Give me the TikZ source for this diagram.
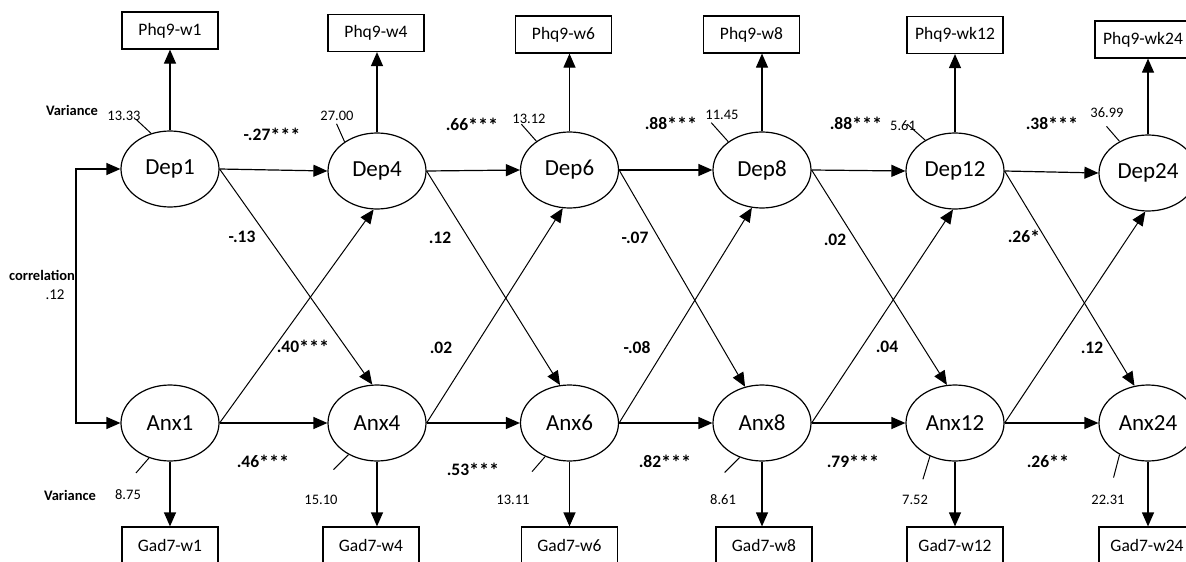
\documentclass[tikz,border=0pt]{standalone}
\usepackage{fontspec}
\usepackage{graphicx}
\setmainfont{Carlito}
\usetikzlibrary{arrows.meta,shapes.geometric,calc}
\newcommand{\stars}[1]{\raisebox{-1.8pt}{\scalebox{1.15}{\textbf{#1}}}}
\begin{document}
\begin{tikzpicture}[x=1pt,y=-1pt,
  line width=1.2pt,
  lat/.style={draw,ellipse,minimum width=98pt,minimum height=76pt,inner sep=0pt,font=\fontsize{23}{26}\selectfont},
  obs/.style={draw,rectangle,minimum width=96pt,minimum height=37pt,inner sep=0pt,font=\fontsize{17.5}{20}\selectfont},
  arr/.style={-{Triangle[length=14pt,width=12pt]}},
  darr/.style={{Triangle[length=14pt,width=12pt]}-{Triangle[length=14pt,width=12pt]}},
  thin1/.style={line width=1pt},
  varnum/.style={font=\fontsize{14.5}{16}\selectfont,inner sep=0pt},
  plab/.style={font=\fontsize{17.5}{20}\selectfont,inner sep=0pt},
  blab/.style={font=\fontsize{14.5}{16}\selectfont\bfseries,inner sep=0pt}
]
\useasboundingbox[fill=white] (0,0) rectangle (1186,562);

% latent nodes
\node[lat] (D1) at (170,169) {Dep1};
\node[lat] (D4) at (377,171) {Dep4};
\node[lat] (D6) at (569.5,170) {Dep6};
\node[lat] (D8) at (762,170) {Dep8};
\node[lat] (D12) at (955,171) {Dep12};
\node[lat] (D24) at (1148,173) {Dep24};
\node[lat] (A1) at (170,423) {Anx1};
\node[lat] (A4) at (377,423) {Anx4};
\node[lat] (A6) at (569.5,423) {Anx6};
\node[lat] (A8) at (762,423) {Anx8};
\node[lat] (A12) at (955,423) {Anx12};
\node[lat] (A24) at (1148,423) {Anx24};

% observed boxes
\node[obs] (P1) at (170,30.5) {Phq9-w1};
\node[obs] (P4) at (376,33) {Phq9-w4};
\node[obs] (P6) at (563.5,34.5) {Phq9-w6};
\node[obs] (P8) at (751.5,34.5) {Phq9-w8};
\node[obs] (P12) at (955,35) {Phq9-wk12};
\node[obs] (P24) at (1143,39.5) {Phq9-wk24};
\node[obs] (G1) at (170,545.5) {Gad7-w1};
\node[obs] (G4) at (371,545.5) {Gad7-w4};
\node[obs] (G6) at (569.5,545.5) {Gad7-w6};
\node[obs] (G8) at (764,545.5) {Gad7-w8};
\node[obs] (G12) at (955,545.5) {Gad7-w12};
\node[obs] (G24) at (1147,545.5) {Gad7-w24};

% indicator arrows
\foreach \d/\p in {D1/P1,D4/P4,D6/P6,D8/P8,D12/P12,D24/P24}
  \draw[arr] (\d.north) -- (\d.north |- \p.south);
\foreach \a/\g in {A1/G1,A4/G4,A6/G6,A8/G8,A12/G12,A24/G24}
  \draw[arr] (\a.south) -- (\a.south |- \g.north);

% autoregressive paths
\draw[arr] (D1.east) -- (D4.west);
\draw[arr] (D4.east) -- (D6.west);
\draw[arr] (D6.east) -- (D8.west);
\draw[arr] (D8.east) -- (D12.west);
\draw[arr] (D12.east) -- (D24.west);
\draw[arr] (A1.east) -- (A4.west);
\draw[arr] (A4.east) -- (A6.west);
\draw[arr] (A6.east) -- (A8.west);
\draw[arr] (A8.east) -- (A12.west);
\draw[arr] (A12.east) -- (A24.west);

% cross-lagged paths
\draw[arr,thin1] (D1.east) -- (A4.97);
\draw[arr,thin1] (D4.east) -- (A6.104);
\draw[arr,thin1] (D6.east) -- (A8.115);
\draw[arr,thin1] (D8.east) -- (A12.102);
\draw[arr,thin1] (D12.east) -- (A24.110);
\draw[arr,thin1] (A1.east) -- (D4.265);
\draw[arr,thin1] (A4.east) -- (D6.260);
\draw[arr,thin1] (A6.east) -- (D8.255);
\draw[arr,thin1] (A8.east) -- (D12.267);
\draw[arr,thin1] (A12.east) -- (D24.266);

% correlation
\coordinate (cl) at (76,300);
\draw[darr] (D1.west) -- (D1.west -| cl) |- (A1.west);
\node[blab] (corr) at (42,275) {correlation};
\node[font=\fontsize{15}{17}\selectfont,inner sep=0pt] (corrv) at (55,295) {.12};

% variance ticks
\draw[thin1] (D1.118) -- ++(-15,-14);
\draw[thin1] (D4.138) -- ++(-8,-18);
\draw[thin1] (D6.139) -- ++(-15,-17);
\draw[thin1] (D8.140) -- ++(-17,-19);
\draw[thin1] (D12.134) -- ++(-18,-16);
\draw[thin1] (D24.132) -- ++(-13,-15);
\draw[thin1] (A1.239) -- ++(-13,15);
\draw[thin1] (A4.228) -- ++(-15,15);
\draw[thin1] (A6.234) -- ++(-13,15);
\draw[thin1] (A8.237) -- ++(-15,15);
\draw[thin1] (A12.233) -- ++(-7,23);
\draw[thin1] (A24.228) -- ++(-6,23);

\node[blab] (vt) at (72,110) {Variance};
\node[blab] (vb) at (70,495) {Variance};
\node[varnum] (v1) at (124,116) {13.33};
\node[varnum] (v4) at (337,116) {27.00};
\node[varnum] (v6) at (529,119) {13.12};
\node[varnum] (v8) at (722,115) {11.45};
\node[varnum] (v12) at (903,126) {5.61};
\node[varnum] (v24) at (1107,113) {36.99};
\node[varnum] (w1) at (128,495) {8.75};
\node[varnum] (w4) at (321,500) {15.10};
\node[varnum] (w6) at (513,500) {13.11};
\node[varnum] (w8) at (723,500) {8.61};
\node[varnum] (w12) at (915,500) {7.52};
\node[varnum] (w24) at (1108,500) {22.31};

% path labels
\node[plab] (l1) at (272,135) {\textbf{-.27}\stars{***}};
\node[plab] (l2) at (472,125) {\textbf{.66}\stars{***}};
\node[plab] (l3) at (671,124) {\textbf{.88}\stars{***}};
\node[plab] (l4) at (856,124) {\textbf{.88}\stars{***}};
\node[plab] (l5) at (1052,124) {\textbf{.38}\stars{***}};
\node[plab] (m1) at (263,462) {\textbf{.46}\stars{***}};
\node[plab] (m2) at (473,470) {\textbf{.53}\stars{***}};
\node[plab] (m3) at (665,462) {\textbf{.82}\stars{***}};
\node[plab] (m4) at (853,462) {\textbf{.79}\stars{***}};
\node[plab] (m5) at (1048,462) {\textbf{.26}\stars{**}};
\node[plab] (c1) at (242,237) {\textbf{-.13}};
\node[plab] (c2) at (303,347) {\textbf{.40}\stars{***}};
\node[plab] (c3) at (440,238) {\textbf{.12}};
\node[plab] (c4) at (441,348) {\textbf{.02}};
\node[plab] (c5) at (635,238) {\textbf{-.07}};
\node[plab] (c6) at (637,348) {\textbf{-.08}};
\node[plab] (c7) at (835,240) {\textbf{.02}};
\node[plab] (c8) at (887,347) {\textbf{.04}};
\node[plab] (c9) at (1024,237) {\textbf{.26}\stars{*}};
\node[plab] (c10) at (1092,348) {\textbf{.12}};
\end{tikzpicture}
\end{document}
